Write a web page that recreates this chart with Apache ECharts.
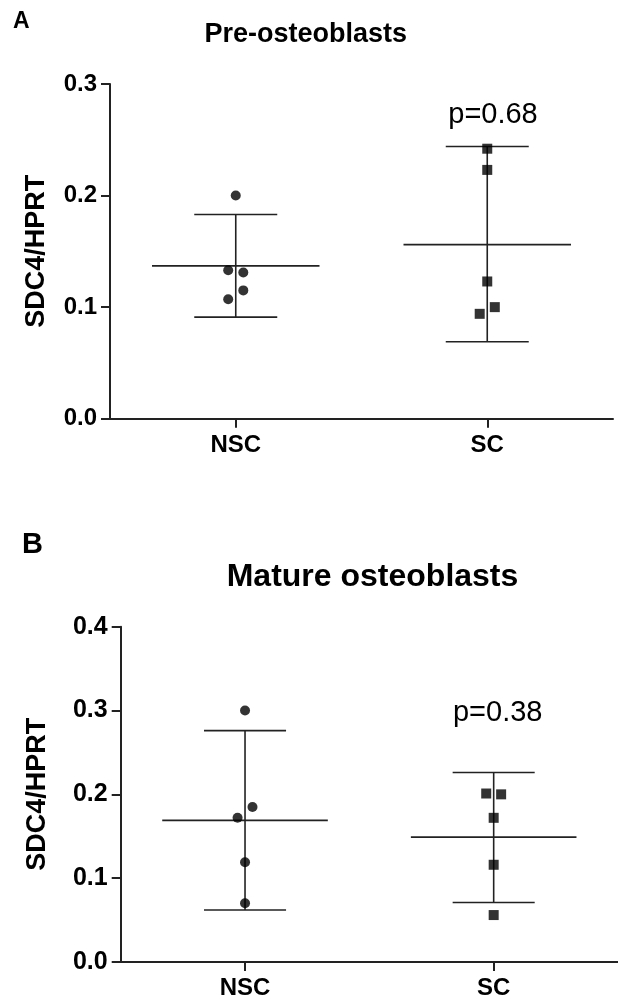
<!DOCTYPE html>
<html><head><meta charset="utf-8">
<script src="https://cdn.jsdelivr.net/npm/echarts@6/dist/echarts.min.js"></script>
<style>html,body{margin:0;padding:0;background:#fff}#c{width:618px;height:1001px}</style>
</head><body><div id="c"></div>
<script>
const categories = ['NSC', 'SC'];
const yTicksA = [0, 0.1, 0.2, 0.3];
const yTicksB = [0, 0.1, 0.2, 0.3, 0.4];
// Panel A: Pre-osteoblasts
const preNSC = [0.200, 0.133, 0.131, 0.115, 0.107];
const preNSCjit = [0, -0.03, 0.03, 0.03, -0.03];
const preSC = [0.242, 0.223, 0.123, 0.100, 0.094];
const preSCjit = [0, 0, 0, 0.03, -0.03];
const preMean = [0.137, 0.156];
const preLow = [0.091, 0.069];
const preHigh = [0.183, 0.244];
const preP = 'p=0.68';
// Panel B: Mature osteoblasts
const matNSC = [0.300, 0.185, 0.172, 0.119, 0.070];
const matNSCjit = [0, 0.03, -0.03, 0, 0];
const matSC = [0.201, 0.200, 0.172, 0.116, 0.056];
const matSCjit = [-0.03, 0.03, 0, 0, 0];
const matMean = [0.169, 0.149];
const matLow = [0.062, 0.071];
const matHigh = [0.276, 0.226];
const matP = 'p=0.38';

const FONT = '"Liberation Sans", Arial, Helvetica, sans-serif';
const LINE = '#222';

function pts(vals, jit, ci) { return vals.map((v, i) => [ci + 0.5 + jit[i], v]); }
function stats(mean, lo, hi) { return mean.map((m, i) => [i + 0.5, m, lo[i], hi[i]]); }

function renderBar(params, api) {
  const x = api.value(0), m = api.value(1), lo = api.value(2), hi = api.value(3);
  const st = { stroke: LINE, lineWidth: 1.6, fill: null };
  const seg = (a, b) => {
    const p1 = api.coord(a), p2 = api.coord(b);
    return { type: 'line', shape: { x1: p1[0], y1: p1[1], x2: p2[0], y2: p2[1] }, style: st };
  };
  return { type: 'group', children: [
    seg([x, lo], [x, hi]),
    seg([x - 0.333, m], [x + 0.333, m]),
    seg([x - 0.165, hi], [x + 0.165, hi]),
    seg([x - 0.165, lo], [x + 0.165, lo])
  ]};
}

function xAx(gi, fs, margin) {
  return {
    type: 'value', gridIndex: gi, min: 0, max: 2, splitLine: { show: false },
    axisLine: { show: true, lineStyle: { color: LINE, width: 2 } },
    axisTick: { show: true, customValues: [0.5, 1.5], length: 9, lineStyle: { color: LINE, width: 2 } },
    axisLabel: { customValues: [0.5, 1.5], formatter: v => categories[Math.floor(v)], fontFamily: FONT,
      fontWeight: 'bold', fontSize: fs, color: '#000', margin: margin }
  };
}
function yAx(gi, max, fs, nameFs, gap) {
  return {
    type: 'value', gridIndex: gi, min: 0, max: max, interval: 0.1, splitLine: { show: false },
    name: 'SDC4/HPRT', nameLocation: 'middle', nameGap: gap, nameRotate: 90,
    nameTextStyle: { fontFamily: FONT, fontWeight: 'bold', fontSize: nameFs, color: '#000' },
    axisLine: { show: true, lineStyle: { color: LINE, width: 2 } },
    axisTick: { show: true, length: 9, lineStyle: { color: LINE, width: 2 } },
    axisLabel: { formatter: v => v.toFixed(1), fontFamily: FONT, fontWeight: 'bold', fontSize: fs, color: '#000', margin: 13 }
  };
}

const chart = echarts.init(document.getElementById('c'), null, { renderer: 'canvas' });
chart.setOption({
  animation: false,
  backgroundColor: '#fff',
  grid: [
    { left: 110, top: 84, width: 503, height: 334.7 },
    { left: 120.7, top: 626.7, width: 500, height: 335.3 }
  ],
  xAxis: [xAx(0, 24, 15), xAx(1, 24, 14)],
  yAxis: [yAx(0, yTicksA[yTicksA.length - 1], 24, 27, 60), yAx(1, yTicksB[yTicksB.length - 1], 25, 27, 70)],
  graphic: [
    { type: 'text', left: 13, top: 10, style: { text: 'A', font: 'bold 23px ' + FONT, fill: '#000' } },
    { type: 'text', x: 305.7, y: 35, style: { text: 'Pre-osteoblasts', font: 'bold 27px ' + FONT, fill: '#000', textAlign: 'center', textVerticalAlign: 'middle' } },
    { type: 'text', x: 493, y: 115, style: { text: preP, font: '29px ' + FONT, fill: '#000', textAlign: 'center', textVerticalAlign: 'middle' } },
    { type: 'text', left: 22, top: 530, style: { text: 'B', font: 'bold 29px ' + FONT, fill: '#000' } },
    { type: 'text', x: 372.5, y: 577, style: { text: 'Mature osteoblasts', font: 'bold 32px ' + FONT, fill: '#000', textAlign: 'center', textVerticalAlign: 'middle' } },
    { type: 'text', x: 497.7, y: 713, style: { text: matP, font: '29px ' + FONT, fill: '#000', textAlign: 'center', textVerticalAlign: 'middle' } }
  ],
  series: [
    { type: 'custom', xAxisIndex: 0, yAxisIndex: 0, renderItem: renderBar, data: stats(preMean, preLow, preHigh), encode: { x: 0, y: [1, 2, 3] }, z: 2 },
    { type: 'scatter', xAxisIndex: 0, yAxisIndex: 0, symbol: 'circle', symbolSize: 10, itemStyle: { color: '#000' }, data: pts(preNSC, preNSCjit, 0), z: 3 },
    { type: 'scatter', xAxisIndex: 0, yAxisIndex: 0, symbol: 'rect', symbolSize: 10, itemStyle: { color: '#000' }, data: pts(preSC, preSCjit, 1), z: 3 },
    { type: 'custom', xAxisIndex: 1, yAxisIndex: 1, renderItem: renderBar, data: stats(matMean, matLow, matHigh), encode: { x: 0, y: [1, 2, 3] }, z: 2 },
    { type: 'scatter', xAxisIndex: 1, yAxisIndex: 1, symbol: 'circle', symbolSize: 10, itemStyle: { color: '#000' }, data: pts(matNSC, matNSCjit, 0), z: 3 },
    { type: 'scatter', xAxisIndex: 1, yAxisIndex: 1, symbol: 'rect', symbolSize: 10, itemStyle: { color: '#000' }, data: pts(matSC, matSCjit, 1), z: 3 }
  ]
});
</script>
</body></html>
